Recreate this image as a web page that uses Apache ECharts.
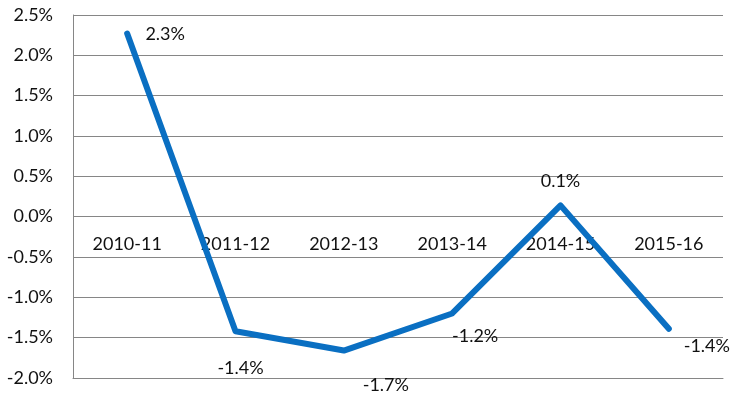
<!DOCTYPE html>
<html>
<head>
<meta charset="utf-8">
<script src="https://cdn.jsdelivr.net/npm/echarts@6/dist/echarts.min.js"></script>
<style>html,body{margin:0;padding:0;background:#fff}#c{width:735px;height:408px}</style>
</head>
<body>
<div id="c"></div>
<script>
const categories = ['2010-11', '2011-12', '2012-13', '2013-14', '2014-15', '2015-16'];
const values = [2.27, -1.42, -1.66, -1.20, 0.14, -1.39];
const yTicks = { min: -2.0, max: 2.5, interval: 0.5 };
const labelOffsets = [[38, 1], [5, 37], [42, 35], [23, 23], [0, -24], [38, 17]];

const FONT = 'Lato';
const chart = echarts.init(document.getElementById('c'), null, { renderer: 'canvas' });
chart.setOption({
  animation: false,
  backgroundColor: '#fff',
  grid: { left: 73, top: 15, right: 12, bottom: 30, containLabel: false, outerBoundsMode: 'none' },
  xAxis: {
    type: 'category',
    data: categories,
    boundaryGap: true,
    axisLine: { show: true, onZero: false, lineStyle: { color: '#868686', width: 1 } },
    axisTick: { show: false },
    axisLabel: { color: '#111', fontFamily: FONT, fontSize: 18, margin: -143, interval: 0 },
    splitLine: { show: false }
  },
  yAxis: {
    type: 'value',
    min: yTicks.min, max: yTicks.max, interval: yTicks.interval,
    axisLine: { show: true, lineStyle: { color: '#868686', width: 1 } },
    axisTick: { show: false },
    axisLabel: { color: '#111', fontFamily: FONT, fontSize: 18, margin: 20,
      formatter: v => v.toFixed(1) + '%' },
    splitLine: { show: true, lineStyle: { color: '#868686', width: 1 } }
  },
  series: [{
    type: 'line',
    data: values.map((v, i) => ({
      value: v,
      label: { offset: labelOffsets[i] }
    })),
    symbol: 'circle',
    symbolSize: 1,
    showSymbol: true,
    itemStyle: { color: '#0A6FC2' },
    lineStyle: { color: '#0A6FC2', width: 6, cap: 'round', join: 'round' },
    label: {
      show: true,
      position: 'inside',
      align: 'center',
      verticalAlign: 'middle',
      color: '#111',
      fontFamily: FONT,
      fontSize: 18,
      formatter: p => p.value.toFixed(1) + '%'
    },
    z: 3
  }]
});
</script>
</body>
</html>
